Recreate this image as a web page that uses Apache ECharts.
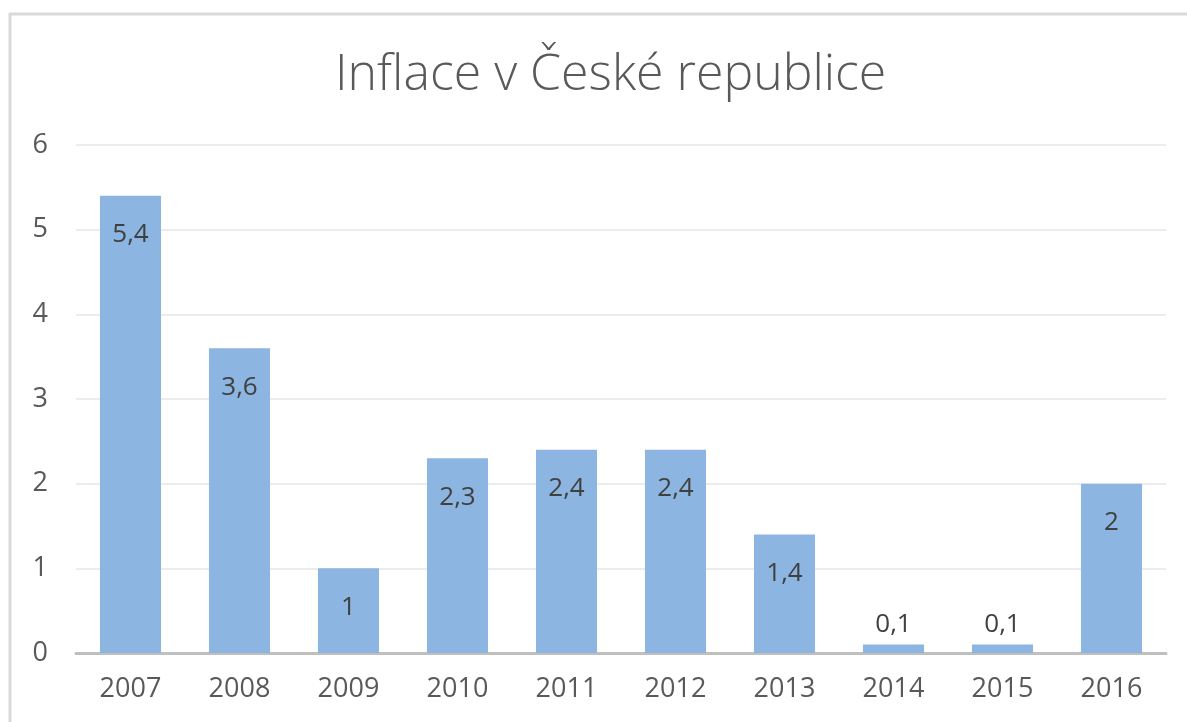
<!DOCTYPE html>
<html><head><meta charset="utf-8">
<script src="https://cdn.jsdelivr.net/npm/echarts@6/dist/echarts.min.js"></script>
<style>html,body{margin:0;padding:0;background:#fff}#c{width:1187px;height:722px}</style>
</head><body><div id="c"></div>
<script>
const years = ['2007','2008','2009','2010','2011','2012','2013','2014','2015','2016'];
const inflation = [5.4, 3.6, 1, 2.3, 2.4, 2.4, 1.4, 0.1, 0.1, 2];
const yTicks = [0, 1, 2, 3, 4, 5, 6];
const titleText = 'Inflace v České republice';

const FONT = '"Open Sans", sans-serif';
const chart = echarts.init(document.getElementById('c'));
chart.setOption({
  animation: false,
  backgroundColor: '#fff',
  graphic: [{type:'rect', shape:{x:10,y:14,width:1300,height:900}, style:{fill:'none', stroke:'#d9d9d9', lineWidth:3}}],
  title: {text: titleText, left: 330, top: 46,
    textStyle: {fontFamily: FONT, fontWeight: 300, fontSize: 50, color: '#595959'}},
  grid: {left: 76, right: 21, top: 145, bottom: 69, containLabel: false},
  xAxis: {type: 'category', data: years,
    axisLine: {lineStyle: {color: '#bfbfbf', width: 3}},
    axisTick: {show: false},
    axisLabel: {fontFamily: FONT, fontSize: 27, color: '#595959', margin: 23}},
  yAxis: {type: 'value', min: yTicks[0], max: yTicks[yTicks.length-1], interval: 1,
    axisLine: {show: false}, axisTick: {show: false},
    splitLine: {lineStyle: {color: '#ececec', width: 2}},
    axisLabel: {fontFamily: FONT, fontSize: 27, color: '#595959', margin: 28}},
  series: [{type: 'bar', barWidth: '56%',
    data: inflation.map(v => ({value: v, label: v < 0.5 ? {position: 'top', distance: 7} : {}})),
    itemStyle: {color: '#8cb6e1'},
    label: {show: true, position: 'insideTop', distance: 26,
      formatter: p => String(p.value).replace('.', ','),
      fontFamily: FONT, fontSize: 26, color: '#404040'}}]
});
</script></body></html>
